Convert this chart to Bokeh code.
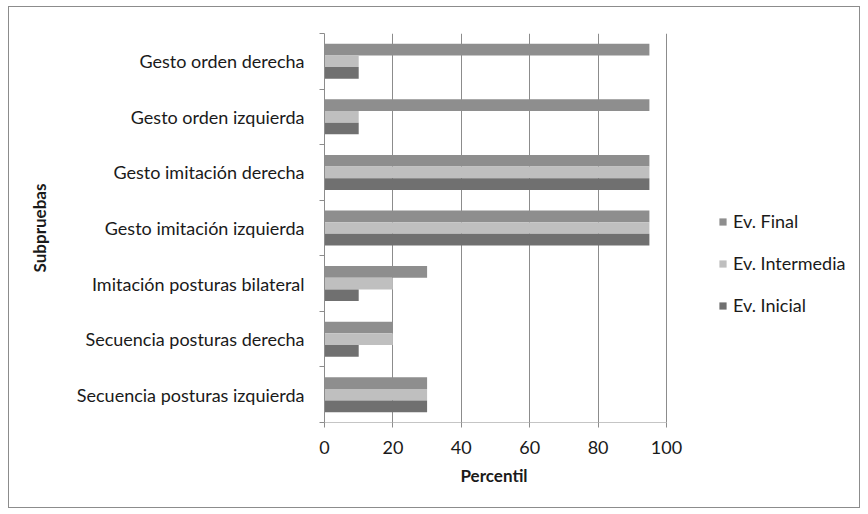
from bokeh.plotting import figure
from bokeh.models import (ColumnDataSource, Range1d, FixedTicker, Legend, LegendItem,
                          InlineStyleSheet, Title)
from bokeh.transform import dodge
from bokeh.embed import file_html
from bokeh.resources import INLINE

# Subtests, listed top to bottom
subpruebas = [
    "Gesto orden derecha",
    "Gesto orden izquierda",
    "Gesto imitación derecha",
    "Gesto imitación izquierda",
    "Imitación posturas bilateral",
    "Secuencia posturas derecha",
    "Secuencia posturas izquierda",
]
ev_final = [95, 95, 95, 95, 30, 20, 30]
ev_intermedia = [10, 10, 95, 95, 20, 20, 30]
ev_inicial = [10, 10, 95, 95, 10, 10, 30]
x_ticks = [0, 20, 40, 60, 80, 100]

FONT = "Lato"
TEXT = "#1a1a1a"
GRID = "#8c8c8c"

# plot area layout (px); the frame continues to the right to host the legend
LEFT, AXIS_W, RIGHT_END = 324, 342, 859
x_max = x_ticks[-1]
x_end = x_max * (RIGHT_END - LEFT) / AXIS_W

n = len(subpruebas)
ypos = [n - i - 0.5 for i in range(n)]
src = ColumnDataSource(dict(y=ypos, name=subpruebas, final=ev_final,
                            inter=ev_intermedia, ini=ev_inicial))

p = figure(width=868, height=514, output_backend="svg", toolbar_location=None,
           x_range=Range1d(0, x_end), y_range=Range1d(0, n),
           min_border_left=LEFT, min_border_right=868 - RIGHT_END, min_border_top=33,
           min_border_bottom=92)
p.outline_line_color = None
p.background_fill_color = "white"
p.border_fill_color = "white"
p.stylesheets = [InlineStyleSheet(css="""
:host { position: relative; }
:host::after {
  content: ""; position: absolute; left: 8px; top: 6px;
  width: 850px; height: 500px; border: 1px solid #8c8c8c;
  pointer-events: none;
}
""")]

bh = 0.21
r_fin = p.hbar(y=dodge("y", bh, range=p.y_range), right="final", left=0, height=bh,
               source=src, fill_color="#8e8e8e", line_color=None)
r_int = p.hbar(y=dodge("y", 0, range=p.y_range), right="inter", left=0, height=bh,
               source=src, fill_color="#bfbfbf", line_color=None)
r_ini = p.hbar(y=dodge("y", -bh, range=p.y_range), right="ini", left=0, height=bh,
               source=src, fill_color="#707070", line_color=None)

# x axis line only spans the value scale 0..100
p.segment(x0=[0], x1=[x_max], y0=[0], y1=[0], line_color=GRID, line_width=1)

p.xaxis.ticker = FixedTicker(ticks=x_ticks)
p.xaxis.major_label_text_font = FONT
p.xaxis.major_label_text_font_size = "18px"
p.xaxis.major_label_text_color = TEXT
p.xaxis.major_label_standoff = 13
p.xaxis.axis_line_color = None
p.xaxis.major_tick_line_color = GRID
p.xaxis.major_tick_in = 0
p.xaxis.major_tick_out = 5
p.xaxis.minor_tick_line_color = None

# x axis title, centred under the 0..100 scale
xtitle = Title(text="Percentil", align="left", offset=136, standoff=12,
               text_font=FONT, text_font_style="bold", text_font_size="17px",
               text_color=TEXT)
p.add_layout(xtitle, "below")

# y axis: labels at category centres, ticks at category boundaries
p.yaxis.ticker = FixedTicker(ticks=ypos, minor_ticks=list(range(n + 1)))
p.yaxis.major_label_overrides = {y: s for y, s in zip(ypos, subpruebas)}
p.yaxis.axis_label = "Subpruebas"
p.yaxis.axis_label_text_font = FONT
p.yaxis.axis_label_text_font_style = "bold"
p.yaxis.axis_label_text_font_size = "17px"
p.yaxis.axis_label_text_color = TEXT
p.yaxis.axis_label_standoff = 24
p.yaxis.major_label_text_font = FONT
p.yaxis.major_label_text_font_size = "18px"
p.yaxis.major_label_text_color = TEXT
p.yaxis.major_label_standoff = 14
p.yaxis.axis_line_color = GRID
p.yaxis.major_tick_line_color = None
p.yaxis.minor_tick_line_color = GRID
p.yaxis.minor_tick_in = 0
p.yaxis.minor_tick_out = 5

p.xgrid.ticker = FixedTicker(ticks=x_ticks[1:])
p.xgrid.grid_line_color = GRID
p.ygrid.grid_line_color = None

legend = Legend(items=[LegendItem(label="Ev. Final", renderers=[r_fin]),
                       LegendItem(label="Ev. Intermedia", renderers=[r_int]),
                       LegendItem(label="Ev. Inicial", renderers=[r_ini])],
                location=(394, 106), orientation="vertical")
legend.border_line_color = None
legend.background_fill_alpha = 0
legend.glyph_width = 9
legend.glyph_height = 9
legend.label_height = 18
legend.spacing = 20
legend.label_standoff = 6
legend.label_text_font = FONT
legend.label_text_font_size = "18px"
legend.label_text_color = TEXT
legend.padding = 0
legend.margin = 0
p.add_layout(legend, "center")

open("out.html", "w").write(file_html(p, INLINE))
